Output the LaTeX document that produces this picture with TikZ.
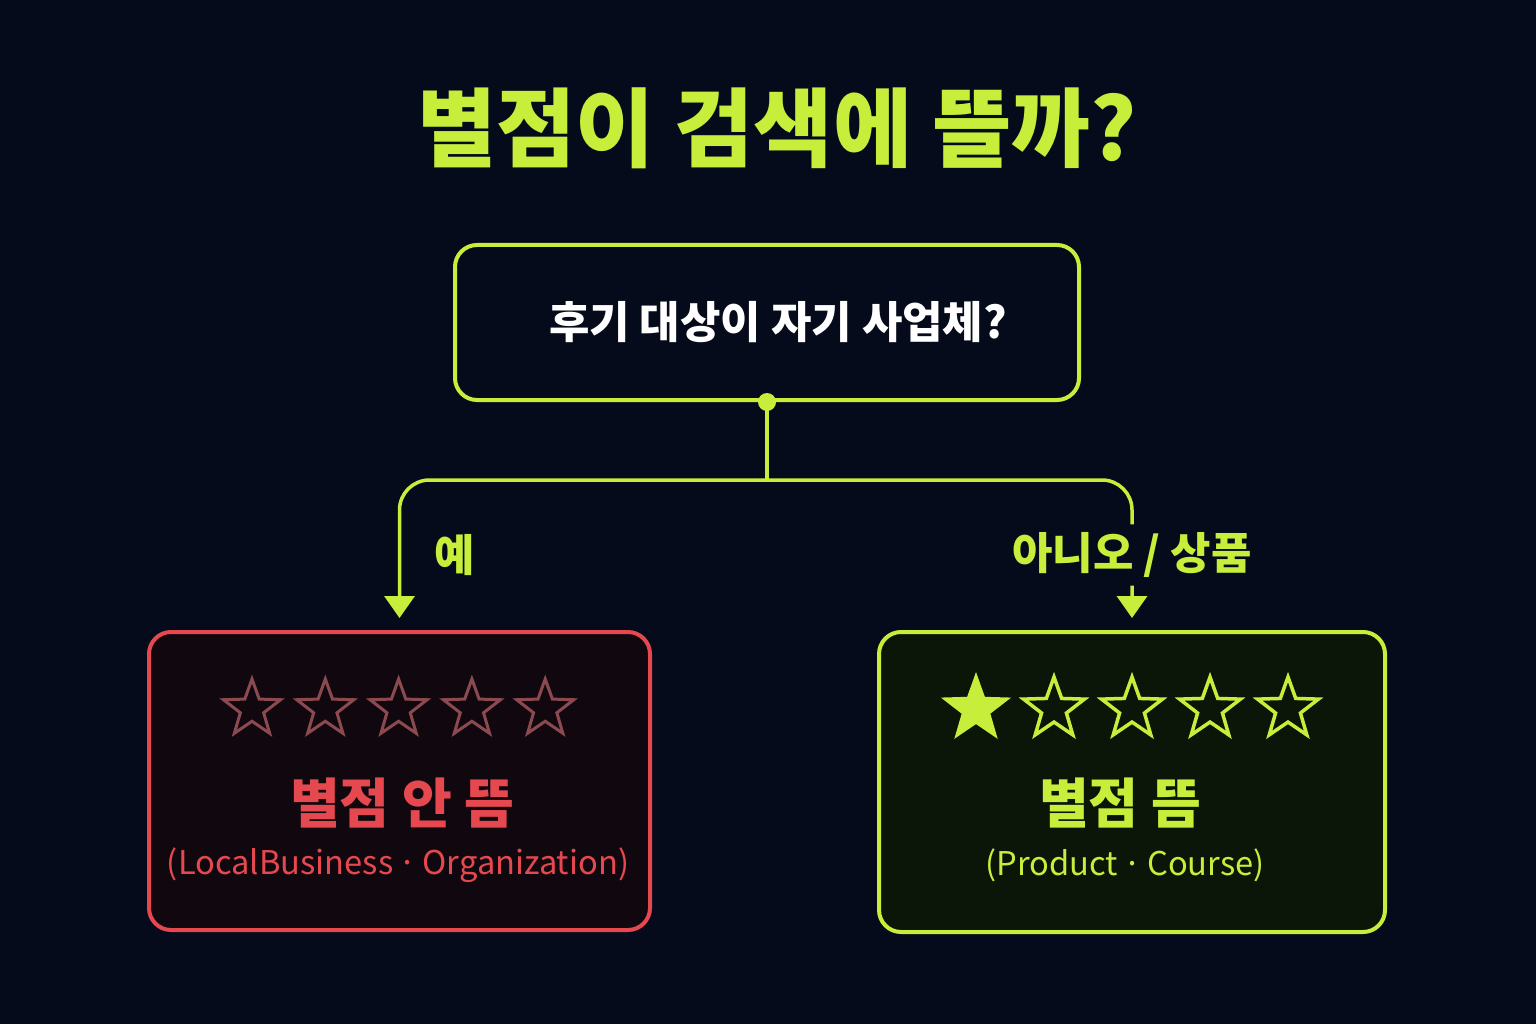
\documentclass[tikz,border=0pt]{standalone}
\usepackage{fontspec}
\setmainfont{Noto Sans CJK KR}
\usetikzlibrary{arrows.meta,shapes.geometric}

\definecolor{bgnavy}{HTML}{050B1A}
\definecolor{lime}{HTML}{C6EE3A}
\definecolor{alarm}{HTML}{E5484F}
\definecolor{stardim}{HTML}{8C4A50}
\definecolor{nofill}{HTML}{11080F}
\definecolor{yesfill}{HTML}{0C1608}

\tikzset{
  box/.style={draw, rounded corners=0.22cm, line width=0.04cm, inner sep=0pt},
  link/.style={draw=lime, line width=0.035cm},
  tip/.style={-{Triangle[width=0.3cm,length=0.22cm]}},
  starmark/.style={star, star points=5, star point ratio=2.45, minimum size=0.6cm,
    inner sep=0pt, line width=0.03cm},
  label/.style={text=lime, font=\fontsize{12.5}{15}\selectfont\bfseries},
}

\begin{document}
\begin{tikzpicture}
% Background
\fill[bgnavy] (0,0) rectangle (15.36,10.24);
\useasboundingbox (0,0) rectangle (15.36,10.24);

% Title
\node[text=lime, font=\fontsize{24.5}{30}\selectfont\bfseries] (title) at (7.77,8.96) {별점이 검색에 뜰까?};

% Question box
\node[box, draw=lime, fill=bgnavy, minimum width=6.24cm, minimum height=1.55cm] (question) at (7.67,7.015) {};
\node[text=white, font=\fontsize{12.5}{15}\selectfont\bfseries] (qtext) at (7.78,7.02) {후기 대상이 자기 사업체?};

% Result boxes
\node[box, draw=alarm, fill=nofill, minimum width=5.01cm, minimum height=2.98cm] (nostar) at (3.995,2.43) {};
\node[box, draw=lime, fill=yesfill, minimum width=5.06cm, minimum height=3.0cm] (star) at (11.32,2.42) {};

% Stars, none lit
\foreach \i in {0,...,4}
  \node[starmark, draw=stardim] (nostar-\i) at (2.52+0.733*\i,3.15) {};

% Stars, first one lit
\node[starmark, draw=lime, fill=lime, minimum size=0.65cm] (star-0) at (9.76,3.15) {};
\foreach \i in {1,...,4}
  \node[starmark, draw=lime, minimum size=0.64cm, line width=0.035cm] (star-\i) at (9.76+0.78*\i,3.15) {};

% Result texts
\node[text=alarm, font=\fontsize{15.4}{18}\selectfont\bfseries] (notext) at (4.02,2.21) {별점 안 뜸};
\node[text=alarm, font=\fontsize{9.3}{12}\selectfont] (nonote) at (3.98,1.59) {(LocalBusiness\,·\,Organization)};
\node[text=lime, font=\fontsize{15.4}{18}\selectfont\bfseries] (yestext) at (11.2,2.21) {별점 뜸};
\node[text=lime, font=\fontsize{9.3}{12}\selectfont] (yesnote) at (11.25,1.59) {(Product\,·\,Course)};

% Drawing connectors
\coordinate (split) at (7.67,5.44);
\draw[link] (question.south) -- (split);
\fill[lime] (question.south) circle (0.09);
\draw[link, tip, rounded corners=0.3cm, shorten >=0.12cm] (split) -| node[label, pos=0.75, anchor=west, xshift=0.22cm] (yes) {예} (nostar.north);
\draw[link, tip, rounded corners=0.3cm, shorten >=0.12cm] (split) -| node[label, pos=0.75, fill=bgnavy, inner xsep=0.02cm, inner ysep=0.08cm] (no) {아니오 / 상품} (star.north);
\end{tikzpicture}
\end{document}
